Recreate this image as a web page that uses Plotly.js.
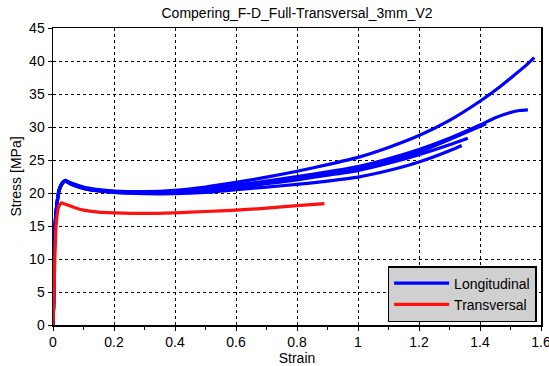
<!DOCTYPE html>
<html>
<head>
<meta charset="utf-8">
<script src="https://cdn.plot.ly/plotly-3.0.1.min.js"></script>
<style>html,body{margin:0;padding:0;background:#fff;}#chart{width:549px;height:366px;}</style>
</head>
<body>
<div id="chart"></div>
<script>
// Longitudinal specimens (blue)
const strainA = [0,0.002,0.006,0.012,0.02,0.03,0.04,0.06,0.1,0.15,0.2,0.3,0.4,0.5,0.6,0.7,0.8,0.9,1.0,1.1,1.2,1.3,1.4,1.46,1.5,1.55,1.578];
const stressA = [0,3,14.5,18,20.5,21.5,21.9,21.5,20.9,20.5,20.3,20.2,20.4,20.9,21.6,22.4,23.3,24.3,25.4,26.9,28.7,31.0,33.9,35.9,37.4,39.3,40.5];
const strainB = [0,0.002,0.006,0.012,0.02,0.03,0.04,0.06,0.1,0.15,0.2,0.3,0.4,0.5,0.6,0.7,0.8,0.9,1.0,1.1,1.2,1.3,1.4,1.45,1.5,1.53,1.557];
const stressB = [0,3,14,17.8,20.3,21.4,21.8,21.4,20.8,20.4,20.2,20.1,20.2,20.6,21.2,21.8,22.5,23.2,24.0,25.2,26.6,28.3,30.3,31.4,32.2,32.5,32.6];
const strainC = [0,0.002,0.006,0.012,0.02,0.03,0.04,0.06,0.1,0.15,0.2,0.3,0.4,0.5,0.6,0.7,0.8,0.9,1.0,1.1,1.2,1.3,1.42];
const stressC = [0,3,14.2,17.9,20.4,21.4,21.8,21.4,20.8,20.4,20.2,20.1,20.1,20.5,21.0,21.6,22.2,22.9,23.7,24.8,26.2,28.1,30.5];
const strainD = [0,0.002,0.006,0.012,0.02,0.03,0.04,0.06,0.1,0.15,0.2,0.3,0.4,0.5,0.6,0.7,0.8,0.9,1.0,1.1,1.2,1.3,1.36];
const stressD = [0,3,14.3,18,20.4,21.5,21.8,21.3,20.7,20.3,20.1,20.0,20.0,20.4,20.8,21.4,22.0,22.7,23.4,24.5,25.8,27.3,28.3];
const strainE = [0,0.002,0.006,0.012,0.02,0.03,0.04,0.06,0.1,0.15,0.2,0.3,0.4,0.5,0.6,0.7,0.8,0.9,1.0,1.1,1.2,1.3,1.34];
const stressE = [0,3,14.5,18.1,20.5,21.5,21.9,21.4,20.7,20.3,20.1,19.9,19.9,20.1,20.5,20.9,21.3,21.8,22.4,23.4,24.7,26.4,27.2];
// Transversal specimen (red)
const strainT = [0,0.003,0.006,0.01,0.018,0.027,0.04,0.07,0.1,0.15,0.2,0.3,0.4,0.5,0.6,0.7,0.8,0.89];
const stressT = [0,4,10,15,17.8,18.5,18.3,17.8,17.4,17.1,17.0,16.9,17.0,17.2,17.4,17.7,18.1,18.4];

const xTicks = [0,0.2,0.4,0.6,0.8,1,1.2,1.4,1.6];
const yTicks = [0,5,10,15,20,25,30,35,40,45];
const blueSets = [[strainA,stressA],[strainB,stressB],[strainC,stressC],[strainD,stressD],[strainE,stressE]];

const traces = blueSets.map((s,i)=>({
  x:s[0], y:s[1], type:'scatter', mode:'lines', name:'Longitudinal',
  legendgroup:'L', showlegend:i===0,
  line:{color:'#0000ff', width:3.2, shape:'spline', smoothing:0.5}
}));
traces.push({x:strainT, y:stressT, type:'scatter', mode:'lines', name:'Transversal',
  legendgroup:'T', line:{color:'#ff1010', width:3.2, shape:'spline', smoothing:0.5}});

const fam = '"Liberation Sans", Arial, sans-serif';
const f14 = {family:fam, size:14, color:'#000'};
const layout = {
  width:549, height:366,
  margin:{l:53, r:8, t:28, b:41},
  paper_bgcolor:'#fff', plot_bgcolor:'#fff',
  font:f14,
  title:{text:'Compering_F-D_Full-Transversal_3mm_V2', font:f14, x:0.541, xanchor:'center', y:0.965, yanchor:'middle'},
  xaxis:{range:[0,1.6], tickvals:xTicks, ticktext:xTicks.map(String), showline:true, mirror:true, linecolor:'#000', linewidth:1.5,
    ticks:'outside', ticklen:4, tickcolor:'#000', showgrid:true, gridcolor:'#000', griddash:'3px,3px', gridwidth:1, zeroline:false,
    ticklabeloverflow:'allow',
    minor:{dtick:0.1, ticks:'outside', ticklen:3, tickcolor:'#000', showgrid:false},
    title:{text:'Strain', font:f14, standoff:0}, tickfont:f14},
  yaxis:{range:[0,45], tickvals:yTicks, ticktext:yTicks.map(String), showline:true, mirror:true, linecolor:'#000', linewidth:1.5,
    ticks:'outside', ticklen:4, tickcolor:'#000', showgrid:true, gridcolor:'#000', griddash:'3px,3px', gridwidth:1, zeroline:false,
    title:{text:'Stress [MPa]', font:f14, standoff:4}, tickfont:f14},
  legend:{x:0.991, xanchor:'right', y:0.01, yanchor:'bottom', bgcolor:'#d0d0d0', bordercolor:'#000', borderwidth:1.5,
    font:f14, tracegroupgap:0, itemwidth:55}
};
Plotly.newPlot('chart', traces, layout, {displayModeBar:false, staticPlot:true});
</script>
</body>
</html>
